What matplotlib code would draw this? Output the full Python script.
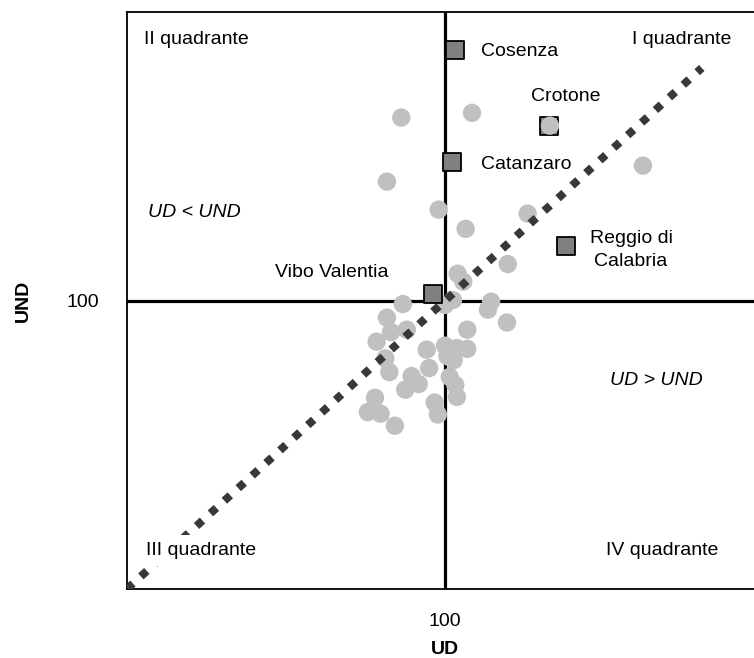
import matplotlib.pyplot as plt

plt.rcParams['font.family'] = ['Liberation Sans', 'DejaVu Sans']

# Province (UD, UND) - indici con media = 100
province = ['Cosenza', 'Crotone', 'Catanzaro', 'Reggio di\nCalabria', 'Vibo Valentia']
prov_ud = [101.3, 113.1, 100.9, 115.2, 98.5]
prov_und = [131.4, 121.9, 117.3, 106.9, 100.8]

# Altre province italiane
altre_ud = [94.5, 103.4, 124.9, 92.7, 99.2, 110.4, 102.6, 113.2, 107.9, 101.6,
            102.3, 105.8, 105.4, 107.8, 102.8, 94.7, 92.7, 93.2, 95.2, 91.4,
            92.5, 93.0, 97.7, 100.0, 101.5, 102.8, 100.3, 101.1, 98.0, 95.8,
            96.7, 95.0, 100.6, 101.3, 101.5, 91.2, 90.3, 91.9, 93.7, 98.7,
            99.1, 100.0, 101.0]
altre_und = [122.9, 123.5, 116.9, 114.9, 111.4, 110.9, 109.0, 121.9, 104.6, 103.4,
             102.4, 99.9, 98.9, 97.3, 96.4, 99.6, 97.9, 96.1, 96.4, 94.9,
             92.8, 91.1, 93.9, 94.4, 94.1, 94.0, 93.1, 92.6, 91.6, 90.6,
             89.6, 88.9, 90.5, 89.5, 88.0, 87.9, 86.1, 85.9, 84.4, 87.3,
             85.8, 99.5, 100.1]

# Retta di tendenza
trend_ud = [60.0, 132.3]
trend_und = [64.0, 129.1]

fig = plt.figure(figsize=(7.54, 6.58), dpi=100)
ax = fig.add_axes([0.1684, 0.1049, 0.8316, 0.8769])

ax.axvline(100, color='black', lw=2.3, zorder=1)
ax.axhline(100, color='black', lw=2.3, zorder=1)

ax.scatter(altre_ud, altre_und, s=175, color='#c0c0c0', edgecolors='none', zorder=3)

for nome, x, y in zip(province, prov_ud, prov_und):
    z = 2 if nome == 'Crotone' else 4
    ax.scatter([x], [y], marker='s', s=160, color='#808080',
               edgecolors='black', linewidths=1.3, zorder=z)

ax.plot(trend_ud, trend_und, color='#383838', lw=5.8, dashes=(1, 1.33),
        dash_capstyle='butt', zorder=5)

fs = 14
lab_pos = {
    'Cosenza': (104.5, 131.1, 'left'),
    'Crotone': (110.8, 125.5, 'left'),
    'Catanzaro': (104.5, 117.0, 'left'),
    'Reggio di\nCalabria': (123.4, 106.4, 'center'),
    'Vibo Valentia': (78.6, 103.5, 'left'),
}
for nome in province:
    x, y, ha = lab_pos[nome]
    ax.text(x, y, nome, fontsize=fs, ha=ha, va='center', multialignment='center',
            linespacing=1.45, zorder=6)

box = dict(facecolor='white', edgecolor='none', pad=5)
ax.text(62.1, 132.6, 'II quadrante', fontsize=fs, va='center', bbox=box, zorder=6)
ax.text(123.5, 132.6, 'I quadrante', fontsize=fs, va='center', bbox=box, zorder=6)
ax.text(62.4, 68.75, 'III quadrante', fontsize=fs, va='center', bbox=box, zorder=6)
ax.text(120.25, 68.75, 'IV quadrante', fontsize=fs, va='center', bbox=box, zorder=6)
ax.text(62.6, 111.0, 'UD < UND', fontsize=fs, style='italic', va='center', zorder=6)
ax.text(120.75, 90.1, 'UD > UND', fontsize=fs, style='italic', va='center', zorder=6)

ax.set_xlim(60, 138.87)
ax.set_ylim(64, 136.1)
ax.set_xticks([100])
ax.set_yticks([100])
ax.tick_params(length=0, labelsize=fs)
ax.tick_params(axis='x', pad=17)
ax.tick_params(axis='y', pad=20)

ax.set_xlabel('UD', fontsize=fs, fontweight='bold')
ax.set_ylabel('UND', fontsize=fs, fontweight='bold')
ax.xaxis.set_label_coords(0.507, -0.091)
ax.yaxis.set_label_coords(-0.152, 0.5)

for s in ['left', 'bottom', 'top']:
    ax.spines[s].set_linewidth(1.3)
ax.spines['right'].set_visible(False)

fig.savefig('out.png', dpi=100)
